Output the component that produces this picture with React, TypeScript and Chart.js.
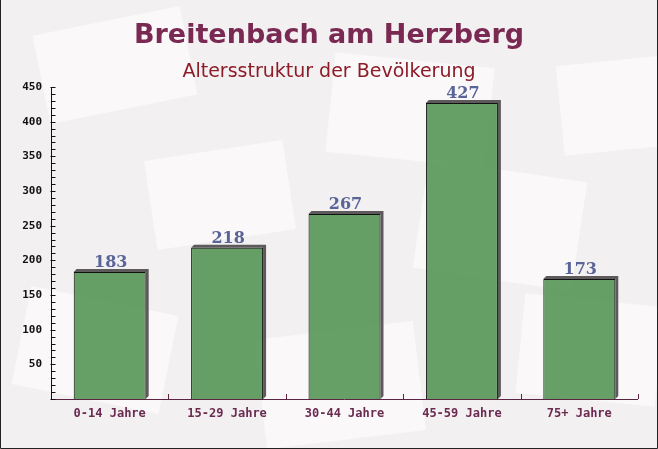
import React, { useEffect, useRef } from "react";
import { Chart, registerables } from "chart.js";

Chart.register(...registerables);

const TITLE = "Breitenbach am Herzberg";
const SUBTITLE = "Altersstruktur der Bevölkerung";
const categories = ["0-14 Jahre", "15-29 Jahre", "30-44 Jahre", "45-59 Jahre", "75+ Jahre"];
const values = [183, 218, 267, 427, 173];
const yMax = 450;
const yStep = 50;
const yMinorStep = 10;

const decorPlugin = {
  id: "decor",
  beforeDraw(chart: any) {
    const { ctx, width, height } = chart;
    ctx.save();
    ctx.fillStyle = "#f3f0f2";
    ctx.fillRect(0, 0, width, height);
    // faint envelope-like shapes
    const shapes = [
      [40, 20, 150, 90, -0.2],
      [330, 60, 160, 100, 0.1],
      [150, 150, 140, 90, -0.15],
      [420, 170, 160, 110, 0.15],
      [560, 60, 120, 90, -0.1],
      [20, 300, 150, 100, 0.2],
      [260, 330, 160, 110, -0.12],
      [520, 300, 140, 100, 0.1],
    ];
    ctx.fillStyle = "rgba(255,255,255,0.55)";
    for (const [x, y, w, h, r] of shapes) {
      ctx.save();
      ctx.translate(x + w / 2, y + h / 2);
      ctx.rotate(r as number);
      ctx.fillRect(-(w as number) / 2, -(h as number) / 2, w as number, h as number);
      ctx.restore();
    }
    ctx.restore();
  },
  beforeDatasetsDraw(chart: any) {
    const { ctx } = chart;
    const meta = chart.getDatasetMeta(0);
    const d = 3;
    ctx.save();
    ctx.fillStyle = "#5e5a5c";
    for (const el of meta.data) {
      const left = el.x - el.width / 2;
      const right = el.x + el.width / 2;
      const top = el.y;
      const bottom = el.base;
      ctx.beginPath();
      ctx.moveTo(left, top);
      ctx.lineTo(left + d, top - d);
      ctx.lineTo(right + d, top - d);
      ctx.lineTo(right + d, bottom - d);
      ctx.lineTo(right, bottom);
      ctx.lineTo(right, top);
      ctx.closePath();
      ctx.fill();
    }
    ctx.restore();
  },
  afterDatasetsDraw(chart: any) {
    const { ctx, chartArea } = chart;
    const xs = chart.scales.x;
    const ys = chart.scales.y;
    ctx.save();
    // x axis line
    ctx.strokeStyle = "#5b2443";
    ctx.lineWidth = 1;
    ctx.beginPath();
    ctx.moveTo(chartArea.left, Math.round(chartArea.bottom) + 0.5);
    ctx.lineTo(chartArea.right, Math.round(chartArea.bottom) + 0.5);
    ctx.stroke();
    // x ticks at category boundaries
    const n = categories.length;
    const step = xs.getPixelForValue(1) - xs.getPixelForValue(0);
    for (let i = 1; i <= n; i++) {
      const px = Math.round(xs.getPixelForValue(i - 1) + step / 2) + 0.5;
      ctx.beginPath();
      ctx.moveTo(px, chartArea.bottom);
      ctx.lineTo(px, chartArea.bottom - 5);
      ctx.stroke();
    }
    // y axis line
    ctx.strokeStyle = "#111";
    const ax = Math.round(chartArea.left) + 0.5;
    ctx.beginPath();
    ctx.moveTo(ax, ys.getPixelForValue(yMax));
    ctx.lineTo(ax, chartArea.bottom + 1);
    ctx.stroke();
    for (let v = 0; v <= yMax; v += yMinorStep) {
      const py = Math.round(ys.getPixelForValue(v)) + 0.5;
      ctx.beginPath();
      ctx.moveTo(ax - (v % yStep === 0 ? 1 : 0), py);
      ctx.lineTo(ax + 4, py);
      ctx.stroke();
    }
    // value labels
    const meta = chart.getDatasetMeta(0);
    ctx.fillStyle = "#5a6496";
    ctx.font = "bold 16px 'DejaVu Serif'";
    ctx.textAlign = "center";
    ctx.textBaseline = "alphabetic";
    meta.data.forEach((el: any, i: number) => {
      ctx.fillText(String(values[i]), el.x + 1, el.y - 5);
    });
    ctx.restore();
  },
  afterDraw(chart: any) {
    const { ctx, width, height } = chart;
    ctx.save();
    ctx.textAlign = "center";
    ctx.textBaseline = "alphabetic";
    ctx.fillStyle = "#7a2a52";
    ctx.font = "bold 27px 'DejaVu Sans'";
    ctx.fillText(TITLE, width / 2, 43);
    ctx.fillStyle = "#8c1c28";
    ctx.font = "19px 'DejaVu Sans'";
    ctx.fillText(SUBTITLE, width / 2, 77);
    // frame
    ctx.strokeStyle = "#222";
    ctx.lineWidth = 1;
    ctx.beginPath();
    ctx.moveTo(0.5, 0);
    ctx.lineTo(0.5, height - 0.5);
    ctx.lineTo(width - 0.5, height - 0.5);
    ctx.lineTo(width - 0.5, 0);
    ctx.stroke();
    ctx.restore();
  },
};

export default function App() {
  const ref = useRef<HTMLCanvasElement | null>(null);
  useEffect(() => {
    document.body.style.margin = "0";
    const canvas = ref.current;
    if (!canvas) return;
    const chart = new Chart(canvas, {
      type: "bar",
      data: {
        labels: categories,
        datasets: [
          {
            data: values,
            backgroundColor: "rgba(76,145,76,0.85)",
            borderColor: "#111",
            borderWidth: 1,
            barPercentage: 0.613,
            categoryPercentage: 1,
          },
        ],
      },
      options: {
        responsive: false,
        animation: false,
        devicePixelRatio: 1,
        layout: { padding: { top: 87, right: 20, left: 0, bottom: 0 } },
        plugins: {
          legend: { display: false },
          title: { display: false },
          tooltip: { enabled: false },
        },
        scales: {
          x: {
            grid: { display: false, drawTicks: false },
            border: { display: false },
            ticks: {
              color: "#6b2a50",
              font: { family: "'DejaVu Sans Mono'", size: 12, weight: "bold" },
              padding: 8,
              maxRotation: 0,
            },
            afterFit(scale: any) {
              scale.height = 50;
            },
          },
          y: {
            min: 0,
            max: yMax,
            grid: { display: false, drawTicks: false },
            border: { display: false },
            ticks: {
              stepSize: yStep,
              color: "#111",
              font: { family: "'DejaVu Sans Mono'", size: 11, weight: "bold" },
              padding: 9,
              callback: (v: any) => (v === 0 ? "" : String(v)),
            },
            afterFit(scale: any) {
              scale.width = 51;
            },
          },
        },
      },
      plugins: [decorPlugin],
    });
    return () => chart.destroy();
  }, []);
  return (
    <div style={{ width: 658, height: 449 }}>
      <canvas ref={ref} width={658} height={449} />
    </div>
  );
}
